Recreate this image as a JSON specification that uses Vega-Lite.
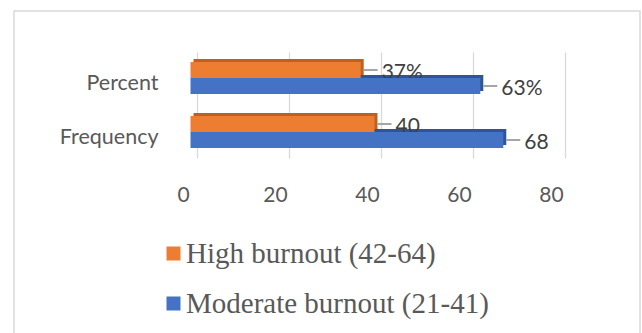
{
  "$schema": "https://vega.github.io/schema/vega-lite/v6.json",
  "width": 626,
  "height": 336,
  "autosize": {"type": "none"},
  "padding": {"left": 14, "top": 11, "right": 2, "bottom": 0},
  "background": "white",
  "config": {
    "view": {"stroke": "#d9d9d9", "strokeWidth": 1.5}
  },
  "data": {
    "values": [
      {"measure": "Percent", "series": "High burnout (42-64)", "value": 37, "label": "37%"},
      {"measure": "Percent", "series": "Moderate burnout (21-41)", "value": 63, "label": "63%"},
      {"measure": "Frequency", "series": "High burnout (42-64)", "value": 40, "label": "40"},
      {"measure": "Frequency", "series": "Moderate burnout (21-41)", "value": 68, "label": "68"}
    ]
  },
  "encoding": {
    "y": {
      "field": "measure",
      "type": "nominal",
      "scale": {
        "domain": ["Percent", "Frequency"],
        "range": [41, 147],
        "paddingInner": 0.407,
        "paddingOuter": 0.185
      },
      "axis": {
        "orient": "left",
        "offset": -148,
        "title": null,
        "domain": false,
        "ticks": false,
        "grid": false,
        "labelPadding": 4,
        "labelOffset": 6,
        "labelFont": "Lato",
        "labelFontSize": 21.5,
        "labelColor": "#595959"
      }
    },
    "x": {
      "field": "value",
      "type": "quantitative",
      "scale": {"domain": [-38.37, 97.72], "nice": false, "zero": false},
      "axis": {
        "orient": "top",
        "offset": -184,
        "title": null,
        "values": [0, 20, 40, 60, 80],
        "domain": false,
        "ticks": false,
        "grid": true,
        "gridColor": "#d9d9d9",
        "gridWidth": 1.3,
        "tickOffset": 6.5,
        "labelOffset": -14,
        "labelPadding": 0,
        "labelBaseline": "middle",
        "labelFlush": false,
        "labelFont": "Lato",
        "labelFontSize": 21,
        "labelColor": "#595959"
      }
    },
    "yOffset": {
      "field": "series",
      "type": "nominal",
      "scale": {"domain": ["High burnout (42-64)", "Moderate burnout (21-41)"], "paddingInner": 0}
    }
  },
  "layer": [
    {
      "transform": [{"filter": "datum.series === 'Moderate burnout (21-41)'"}],
      "mark": {"type": "bar", "color": "#2F5597", "xOffset": 3, "x2Offset": 3},
      "encoding": {
        "yOffset": {
          "field": "series",
          "type": "nominal",
          "scale": {"domain": ["High burnout (42-64)", "Moderate burnout (21-41)"], "range": [-3, 29], "paddingInner": 0}
        }
      }
    },
    {
      "transform": [{"filter": "datum.series === 'High burnout (42-64)'"}],
      "mark": {"type": "bar", "color": "#C0601E", "xOffset": 3, "x2Offset": 3},
      "encoding": {
        "yOffset": {
          "field": "series",
          "type": "nominal",
          "scale": {"domain": ["High burnout (42-64)", "Moderate burnout (21-41)"], "range": [-3, 29], "paddingInner": 0}
        }
      }
    },
    {
      "transform": [{"filter": "datum.series === 'High burnout (42-64)'"}],
      "mark": {"type": "bar"},
      "encoding": {
        "color": {
          "field": "series",
          "type": "nominal",
          "scale": {
            "domain": ["High burnout (42-64)", "Moderate burnout (21-41)"],
            "range": ["#ED7D31", "#4472C4"]
          },
          "legend": {
            "orient": "none",
            "legendX": 145,
            "legendY": 228,
            "direction": "vertical",
            "title": null,
            "padding": 0,
            "symbolType": "square",
            "symbolSize": 196,
            "symbolStrokeWidth": 0,
            "labelFont": "Liberation Serif",
            "labelFontSize": 29,
            "labelColor": "#595959",
            "labelOffset": -2,
            "rowPadding": 20,
            "labelLimit": 500
          }
        }
      }
    },
    {
      "transform": [{"filter": "datum.series === 'High burnout (42-64)'"}],
      "mark": {"type": "rule", "color": "#a6a6a6", "strokeWidth": 2, "xOffset": 3, "x2Offset": 17},
      "encoding": {"x2": {"field": "value"}}
    },
    {
      "transform": [{"filter": "datum.series === 'High burnout (42-64)'"}],
      "mark": {"type": "text", "align": "left", "baseline": "middle", "dx": 21, "dy": 3, "font": "Lato", "fontSize": 21, "color": "#404040"},
      "encoding": {"text": {"field": "label"}}
    },
    {
      "transform": [{"filter": "datum.series === 'Moderate burnout (21-41)'"}],
      "mark": {"type": "bar"},
      "encoding": {
        "color": {"field": "series", "type": "nominal"}
      }
    },
    {
      "transform": [{"filter": "datum.series === 'Moderate burnout (21-41)'"}],
      "mark": {"type": "rule", "color": "#a6a6a6", "strokeWidth": 2, "xOffset": 3, "x2Offset": 17},
      "encoding": {"x2": {"field": "value"}}
    },
    {
      "transform": [{"filter": "datum.series === 'Moderate burnout (21-41)'"}],
      "mark": {"type": "text", "align": "left", "baseline": "middle", "dx": 21, "dy": 3, "font": "Lato", "fontSize": 21, "color": "#404040"},
      "encoding": {"text": {"field": "label"}}
    }
  ],
  "resolve": {"scale": {"yOffset": "independent"}}
}
